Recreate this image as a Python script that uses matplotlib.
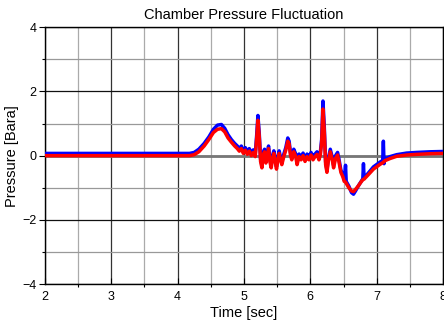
import matplotlib
matplotlib.use("Agg")
import matplotlib.pyplot as plt
from matplotlib.ticker import MultipleLocator

plt.rcParams['font.family'] = ['Liberation Sans', 'DejaVu Sans']

time = [2.0, 4.18, 4.25, 4.32, 4.4, 4.47, 4.54, 4.6, 4.66, 4.71, 4.76, 4.81, 4.86,
        4.9, 4.93, 4.96, 4.99, 5.02, 5.05, 5.08, 5.11, 5.14, 5.17, 5.19, 5.21, 5.23,
        5.25, 5.27, 5.29, 5.31, 5.33, 5.35, 5.37, 5.39, 5.41, 5.43, 5.45, 5.47, 5.49,
        5.51, 5.53, 5.55, 5.57, 5.6, 5.63, 5.66, 5.68, 5.7, 5.72, 5.75, 5.78, 5.8,
        5.83, 5.86, 5.89, 5.92, 5.95, 5.98, 6.01, 6.04, 6.07, 6.1, 6.13, 6.15, 6.17,
        6.19, 6.21, 6.23, 6.25, 6.27, 6.3, 6.33, 6.35, 6.38, 6.41, 6.43, 6.46, 6.49,
        6.51, 6.53, 6.54, 6.58, 6.62, 6.65, 6.68, 6.72, 6.76, 6.79, 6.8, 6.81, 6.87,
        6.95, 7.05, 7.09, 7.1, 7.11, 7.12, 7.2, 7.3, 7.45, 7.6, 7.8, 8.0]

blue = [0.07, 0.07, 0.1, 0.2, 0.38, 0.58, 0.82, 0.95, 0.97, 0.85, 0.65, 0.5, 0.38,
        0.3, 0.22, 0.3, 0.15, 0.25, 0.12, 0.22, 0.08, 0.18, 0.05, 0.6, 1.25, 0.7,
        -0.1, -0.3, 0.1, 0.2, -0.15, 0.05, 0.3, -0.1, -0.3, 0.0, 0.15, -0.1, -0.35,
        -0.05, 0.15, -0.05, -0.2, 0.05, 0.25, 0.55, 0.45, 0.1, -0.05, 0.2, 0.05, -0.2,
        0.05, -0.05, 0.08, -0.1, 0.05, -0.05, 0.1, -0.05, 0.05, 0.12, -0.05, 0.1, 0.5,
        1.7, 0.9, -0.2, -0.45, -0.1, 0.2, -0.05, -0.3, 0.0, 0.1, -0.1, -0.45, -0.6,
        -0.75, -0.3, -0.8, -0.95, -1.15, -1.2, -1.1, -0.95, -0.82, -0.72, -0.25, -0.7, -0.55,
        -0.35, -0.2, -0.15, 0.45, -0.25, -0.1, -0.03, 0.03, 0.08, 0.1, 0.12, 0.13]

red = [0.0, 0.0, 0.03, 0.12, 0.3, 0.5, 0.72, 0.82, 0.84, 0.74, 0.55, 0.42, 0.3,
       0.22, 0.14, 0.22, 0.07, 0.17, 0.04, 0.14, 0.0, 0.1, -0.03, 0.5, 1.1, 0.6,
       -0.18, -0.38, 0.02, 0.12, -0.23, -0.03, 0.22, -0.18, -0.38, -0.08, 0.07, -0.18, -0.42,
       -0.13, 0.07, -0.13, -0.28, -0.03, 0.17, 0.45, 0.37, 0.02, -0.13, 0.12, -0.03, -0.28,
       -0.03, -0.13, 0.0, -0.18, -0.03, -0.13, 0.02, -0.13, -0.03, 0.04, -0.13, 0.02, 0.4,
       1.45, 0.75, -0.28, -0.52, -0.18, 0.12, -0.13, -0.38, -0.08, 0.02, -0.18, -0.52, -0.66,
       -0.8, -0.82, -0.86, -1.0, -1.1, -1.12, -1.05, -0.95, -0.83, -0.75, -0.74, -0.73, -0.6,
       -0.42, -0.27, -0.22, -0.2, -0.19, -0.16, -0.09, -0.02, 0.02, 0.04, 0.06, 0.07]

fig = plt.figure(figsize=(4.44, 3.27), dpi=100)
ax = fig.add_axes([0.101, 0.131, 0.897, 0.786])

ax.set_xlim(2, 8)
ax.set_ylim(-4, 4)
ax.xaxis.set_major_locator(MultipleLocator(1))
ax.xaxis.set_minor_locator(MultipleLocator(0.5))
ax.yaxis.set_major_locator(MultipleLocator(2))
ax.yaxis.set_minor_locator(MultipleLocator(1))

ax.grid(which='major', axis='x', color='#333333', linewidth=0.9)
ax.grid(which='minor', axis='x', color='#aaaaaa', linewidth=0.9)
ax.grid(which='major', axis='y', color='#111111', linewidth=0.9)
ax.grid(which='minor', axis='y', color='#999999', linewidth=0.9)
ax.axhline(0, color='#777777', linewidth=2.0, zorder=1)
ax.set_axisbelow(True)

ax.plot(time, blue, color='#0000ff', linewidth=2.5, zorder=3)
ax.plot(time, red, color='#ff0000', linewidth=2.5, zorder=4)

ax.tick_params(axis='both', which='major', labelsize=9, length=4, width=0.8)
ax.tick_params(axis='both', which='minor', length=2.5, width=0.8)
ax.tick_params(axis='x', direction='in', pad=5)
ax.tick_params(axis='y', direction='out', pad=2)

ax.set_title('Chamber Pressure Fluctuation', fontsize=10.5, pad=6)
ax.set_xlabel('Time [sec]', fontsize=10.5, labelpad=2)
ax.set_ylabel('Pressure [Bara]', fontsize=10.5, labelpad=2)

for s in ax.spines.values():
    s.set_linewidth(1.0)
    s.set_color('black')

fig.savefig('out.png', dpi=100)
